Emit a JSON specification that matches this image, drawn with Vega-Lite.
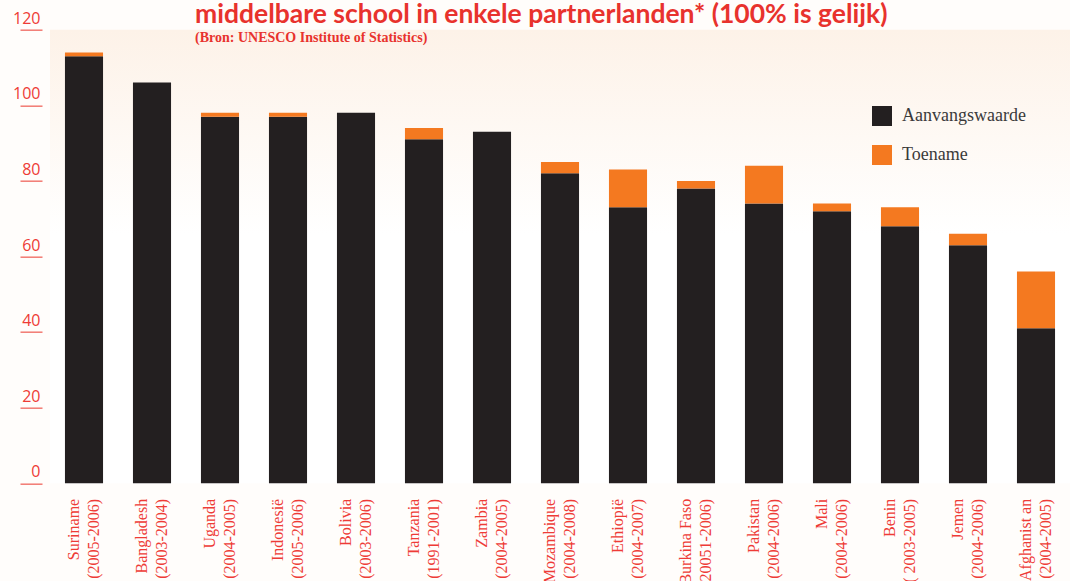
{
  "$schema": "https://vega.github.io/schema/vega-lite/v6.json",
  "width": 1020,
  "height": 453.6,
  "autosize": {"type": "none"},
  "padding": {"left": 50, "top": 29.7, "right": 0, "bottom": 97.7},
  "background": "#fffdfb",
  "title": {
    "text": "middelbare school in enkele partnerlanden* (100% is gelijk)",
    "subtitle": "(Bron: UNESCO Institute of Statistics)",
    "anchor": "start",
    "frame": "group",
    "dx": 145,
    "offset": -35,
    "font": "Lato",
    "fontSize": 26.5,
    "fontWeight": "bold",
    "color": "#e8322d",
    "subtitleFont": "Liberation Serif",
    "subtitleFontSize": 14,
    "subtitleFontWeight": "bold",
    "subtitleColor": "#e8322d",
    "subtitlePadding": 3
  },
  "data": {
    "values": [
      {"land": "Suriname|(2005-2006)", "Aanvangswaarde": 113, "Toename": 1},
      {"land": "Bangladesh|(2003-2004)", "Aanvangswaarde": 106, "Toename": 0},
      {"land": "Uganda|(2004-2005)", "Aanvangswaarde": 97, "Toename": 1},
      {"land": "Indonesië|(2005-2006)", "Aanvangswaarde": 97, "Toename": 1},
      {"land": "Bolivia|(2003-2006)", "Aanvangswaarde": 98, "Toename": 0},
      {"land": "Tanzania|(1991-2001)", "Aanvangswaarde": 91, "Toename": 3},
      {"land": "Zambia|(2004-2005)", "Aanvangswaarde": 93, "Toename": 0},
      {"land": "Mozambique|(2004-2008)", "Aanvangswaarde": 82, "Toename": 3},
      {"land": "Ethiopië|(2004-2007)", "Aanvangswaarde": 73, "Toename": 10},
      {"land": "Burkina Faso|(20051-2006)", "Aanvangswaarde": 78, "Toename": 2},
      {"land": "Pakistan|(2004-2006)", "Aanvangswaarde": 74, "Toename": 10},
      {"land": "Mali|(2004-2006)", "Aanvangswaarde": 72, "Toename": 2},
      {"land": "Benin|( 2003-2005)", "Aanvangswaarde": 68, "Toename": 5},
      {"land": "Jemen|(2004-2006)", "Aanvangswaarde": 63, "Toename": 3},
      {"land": "Afghanist an|(2004-2005)", "Aanvangswaarde": 41, "Toename": 15}
    ]
  },
  "transform": [{"fold": ["Aanvangswaarde", "Toename"], "as": ["reeks", "waarde"]}],
  "mark": {"type": "bar"},
  "encoding": {
    "x": {
      "field": "land",
      "type": "nominal",
      "sort": null,
      "scale": {"paddingInner": 0.44, "paddingOuter": 0.22},
      "axis": {
        "title": null,
        "domain": false,
        "ticks": false,
        "labelAngle": -90,
        "labelAlign": "right",
        "labelBaseline": "middle",
        "labelPadding": 15,
        "labelOffset": -10,
        "labelExpr": "split(datum.label, '|')",
        "labelFont": "Liberation Serif",
        "labelFontSize": 16,
        "labelLineHeight": 20,
        "labelColor": "#ee3b36",
        "labelOverlap": false,
        "labelLimit": 0
      }
    },
    "y": {
      "field": "waarde",
      "type": "quantitative",
      "stack": "zero",
      "scale": {"domain": [0, 120]},
      "axis": {
        "title": null,
        "domain": false,
        "grid": false,
        "values": [0, 20, 40, 60, 80, 100, 120],
        "offset": 8,
        "tickSize": 22,
        "tickWidth": 1.5,
        "tickColor": "#f27a72",
        "labelAlign": "right",
        "labelBaseline": "alphabetic",
        "labelPadding": -20,
        "labelOffset": -6.5,
        "labelFont": "Open Sans",
        "labelFontSize": 16,
        "labelColor": "#ee3b36",
        "labelOverlap": false,
        "labelFlush": false
      }
    },
    "color": {
      "field": "reeks",
      "type": "nominal",
      "scale": {"domain": ["Aanvangswaarde", "Toename"], "range": ["#231f20", "#f47920"]},
      "legend": {
        "title": null,
        "orient": "none",
        "legendX": 822,
        "legendY": 76.3,
        "padding": 0,
        "symbolType": "square",
        "symbolSize": 400,
        "symbolStrokeWidth": 0,
        "symbolOpacity": 1,
        "labelFont": "Liberation Serif",
        "labelFontSize": 18,
        "labelColor": "#3a3a3a",
        "labelOffset": 10,
        "rowPadding": 19
      }
    },
    "order": {"field": "reeks", "sort": "ascending"}
  },
  "config": {
    "view": {
      "stroke": null,
      "fill": {
        "gradient": "linear",
        "x1": 0, "y1": 0, "x2": 0, "y2": 1,
        "stops": [
          {"offset": 0, "color": "#fdf2e8"},
          {"offset": 0.45, "color": "#ffffff"},
          {"offset": 1, "color": "#ffffff"}
        ]
      }
    }
  }
}
